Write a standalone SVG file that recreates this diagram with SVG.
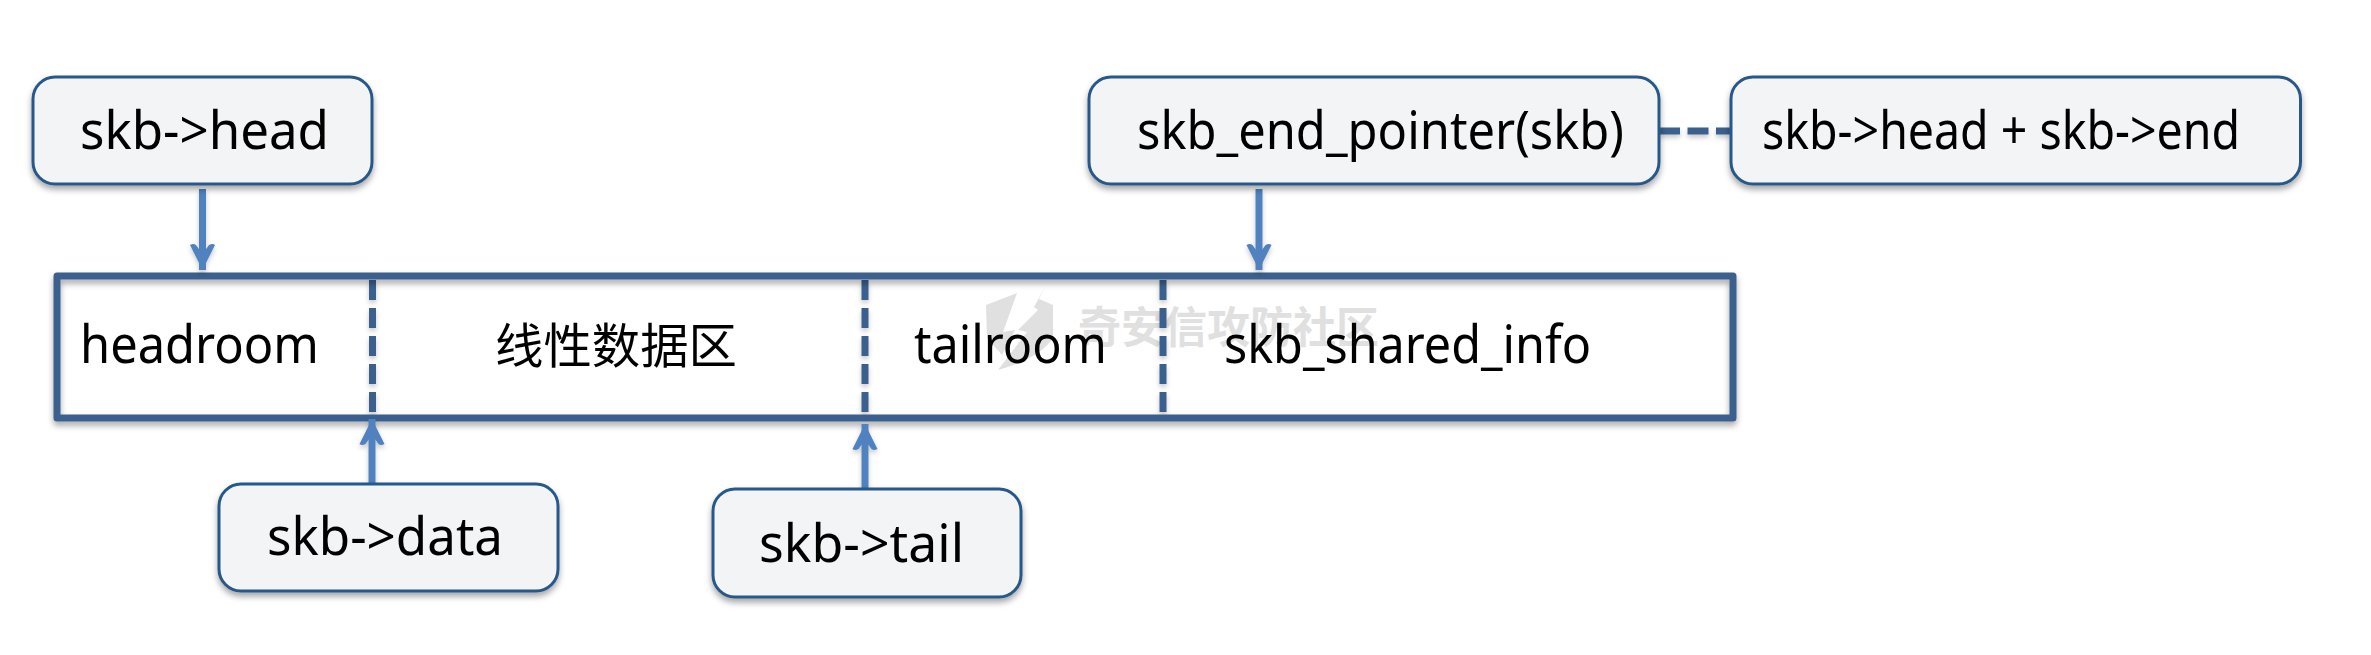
<svg xmlns="http://www.w3.org/2000/svg" width="2371" height="655" viewBox="0 0 2371 655">
<style>
text{font-family:"Noto Sans","Open Sans","Noto Sans CJK SC",sans-serif;font-size:52px;fill:#000}
.cjk{font-family:"Noto Sans CJK SC",sans-serif;font-size:48px}
.box{fill:#f3f4f6;stroke:#28588a;stroke-width:3}
.div{stroke:#3b608e;stroke-width:7;stroke-dasharray:20 8;fill:none}
.arr{stroke:#5082be;stroke-width:7;fill:none;marker-end:url(#head)}
.wm{font-family:"Noto Sans CJK SC",sans-serif;font-size:43px;fill:#e0e0e0;font-weight:700}
</style>
<defs>
<filter id="sh" x="-10%" y="-20%" width="120%" height="145%"><feDropShadow dx="0" dy="4" stdDeviation="3" flood-color="#000" flood-opacity="0.35"/></filter>
<filter id="sl" x="-5%" y="-5%" width="110%" height="110%"><feDropShadow dx="0" dy="3" stdDeviation="2.500" flood-color="#000" flood-opacity="0.22"/></filter>
<marker id="head" markerUnits="userSpaceOnUse" markerWidth="34" markerHeight="34" refX="27" refY="15" orient="auto"><path d="M2 2.500 L27 15 L2 27.500 Q0 24 2 21.500 L11 15 L2 8.500 Q0 5 2 2.500Z" fill="#5082be"/></marker>
</defs>
<rect width="2371" height="655" fill="#fff"/>
<g id="watermark" fill="#e0e0e0">
<path d="M986 305 L1017 293 L1003 332 L1015 330 L1002 355 L987 338Z"/>
<path d="M1046 285 L1039 299 L1053 305 L1053 338 Q1040 358 998 370 L1027 332 L1018 330 L1038 310 L1034 307Z"/>
<text class="wm" x="1078" y="343" textLength="301" lengthAdjust="spacingAndGlyphs">奇安信攻防社区</text>
</g>
<g id="connectors" filter="url(#sl)">
<path class="div" d="M372.500 280V413"/>
<path class="div" d="M865 280V413"/>
<path class="div" d="M1163 280V413"/>
<path d="M1659 131H1731" stroke="#3b608e" stroke-width="7" stroke-dasharray="21 7.500" fill="none"/>
</g>
<g id="buffer"><rect x="57" y="276" width="1676" height="142" fill="none" stroke="#3b608e" stroke-width="7" stroke-linejoin="round" filter="url(#sh)"/>
<text x="80" y="363" textLength="239" lengthAdjust="spacingAndGlyphs">headroom</text>
<text class="cjk" x="495" y="363" textLength="242" lengthAdjust="spacingAndGlyphs">线性数据区</text>
<text x="914" y="363" textLength="193" lengthAdjust="spacingAndGlyphs">tailroom</text>
<text x="1224" y="363" textLength="367" lengthAdjust="spacingAndGlyphs">skb_shared_info</text>
</g>
<g id="arrows" filter="url(#sl)">
<path class="arr" d="M202.500 189V270"/>
<path class="arr" d="M1259 189V270"/>
<path class="arr" d="M372 484V419"/>
<path class="arr" d="M865 489V424"/>
</g>
<g id="n-head"><rect class="box" x="33" y="77" width="339" height="107" rx="22" filter="url(#sh)"/><text x="80" y="149" textLength="249" lengthAdjust="spacingAndGlyphs">skb-&gt;head</text></g>
<g id="n-end"><rect class="box" x="1089" y="77" width="570" height="107" rx="22" filter="url(#sh)"/><text x="1137" y="149" textLength="487" lengthAdjust="spacingAndGlyphs">skb_end_pointer(skb)</text></g>
<g id="n-sum"><rect class="box" x="1731" y="77" width="569.500" height="107" rx="22" filter="url(#sh)"/><text x="1762" y="149" textLength="478" lengthAdjust="spacingAndGlyphs">skb-&gt;head + skb-&gt;end</text></g>
<g id="n-data"><rect class="box" x="219" y="484" width="339" height="107" rx="22" filter="url(#sh)"/><text x="267" y="555" textLength="236" lengthAdjust="spacingAndGlyphs">skb-&gt;data</text></g>
<g id="n-tail"><rect class="box" x="713" y="489" width="308" height="108" rx="22" filter="url(#sh)"/><text x="759" y="562" textLength="205" lengthAdjust="spacingAndGlyphs">skb-&gt;tail</text></g>
</svg>
